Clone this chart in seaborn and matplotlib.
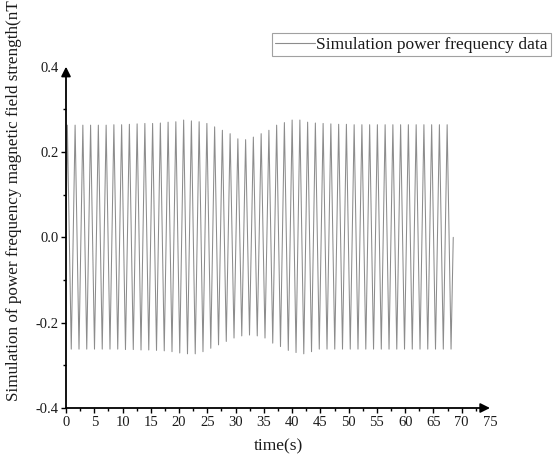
import numpy as np
import pandas as pd
import matplotlib
matplotlib.use("Agg")
import matplotlib.pyplot as plt
from matplotlib.lines import Line2D
import seaborn as sns

# Times of the successive extremes (peak, trough, peak, ...), seconds
extreme_times = [
    0.24, 0.93, 1.61, 2.30, 2.98, 3.67, 4.35, 5.04, 5.72, 6.41,
    7.10, 7.78, 8.47, 9.15, 9.84, 10.52, 11.21, 11.90, 12.58, 13.27,
    13.95, 14.64, 15.32, 16.01, 16.69, 17.38, 18.06, 18.75, 19.43, 20.12,
    20.81, 21.49, 22.18, 22.86, 23.55, 24.23, 24.92, 25.61, 26.29, 26.98,
    27.66, 28.35, 29.03, 29.72, 30.40, 31.09, 31.77, 32.46, 33.14, 33.83,
    34.52, 35.20, 35.89, 36.57, 37.26, 37.94, 38.63, 39.32, 40.00, 40.69,
    41.37, 42.06, 42.74, 43.43, 44.11, 44.80, 45.48, 46.17, 46.85, 47.54,
    48.23, 48.91, 49.60, 50.28, 50.97, 51.65, 52.34, 53.03, 53.71, 54.40,
    55.08, 55.77, 56.45, 57.14, 57.82, 58.51, 59.19, 59.88, 60.56, 61.25,
    61.94, 62.62, 63.31, 63.99, 64.68, 65.36, 66.05, 66.74, 67.42, 68.11,
]
# Field strength at each extreme (nT)
extreme_values = [
    0.263, -0.262, 0.263, -0.262, 0.263, -0.262, 0.263, -0.262, 0.263, -0.262,
    0.263, -0.262, 0.264, -0.262, 0.264, -0.263, 0.265, -0.263, 0.266, -0.264,
    0.267, -0.264, 0.267, -0.265, 0.268, -0.266, 0.270, -0.268, 0.271, -0.271,
    0.275, -0.273, 0.273, -0.273, 0.271, -0.268, 0.267, -0.260, 0.259, -0.252,
    0.251, -0.244, 0.243, -0.236, 0.231, -0.231, 0.229, -0.229, 0.235, -0.231,
    0.243, -0.236, 0.251, -0.248, 0.263, -0.256, 0.269, -0.265, 0.275, -0.270,
    0.275, -0.273, 0.270, -0.268, 0.268, -0.262, 0.267, -0.262, 0.266, -0.262,
    0.265, -0.262, 0.265, -0.262, 0.264, -0.262, 0.264, -0.262, 0.264, -0.262,
    0.264, -0.262, 0.264, -0.262, 0.264, -0.262, 0.264, -0.262, 0.264, -0.262,
    0.264, -0.262, 0.264, -0.262, 0.264, -0.262, 0.264, -0.262, 0.264, -0.262,
]
start_time, start_value = 0.0, 0.0
end_time, end_value = 68.5, 0.0

x_ticks = [0, 5, 10, 15, 20, 25, 30, 35, 40, 45, 50, 55, 60, 65, 70, 75]
y_ticks = [-0.4, -0.2, 0.0, 0.2, 0.4]
series_name = "Simulation power frequency data"
y_label = "Simulation of power frequency magnetic field strength(nT"
x_label = "time(s)"

times = [start_time] + extreme_times + [end_time]
values = [start_value] + extreme_values + [end_value]
df = pd.DataFrame({"time": times, "value": values, "series": series_name})

sns.set_theme(style="white")
plt.rcParams["font.family"] = ["Liberation Serif", "DejaVu Serif"]

line_color = "#8c8c8c"
text_color = "#1a1a1a"

fig = plt.figure(figsize=(5.53, 4.61), dpi=100)
ax = fig.add_axes([66 / 553, 1 - 408 / 461, (490 - 66) / 553, (408 - 66.7) / 461])

sns.lineplot(data=df, x="time", y="value", hue="series", palette=[line_color],
             linewidth=0.75, ax=ax, legend=False, estimator=None, sort=False)

ax.set_xlim(0, 75)
ax.set_ylim(-0.4, 0.4)
ax.set_xticks(x_ticks)
ax.set_xticklabels([str(t) for t in x_ticks])
ax.set_yticks(y_ticks)
ax.set_yticklabels([f"{t:.1f}" for t in y_ticks])
ax.set_xticks(np.arange(2.5, 75, 5), minor=True)
ax.set_yticks([-0.3, -0.1, 0.1, 0.3], minor=True)

for s in ["top", "right", "left", "bottom"]:
    ax.spines[s].set_visible(False)

ax.tick_params(axis="both", which="major", direction="out", length=3.5, width=1.0,
               color="black", labelsize=10.5, labelcolor=text_color, pad=2,
               bottom=True, left=True)
ax.tick_params(axis="both", which="minor", direction="out", length=2, width=1.0,
               color="black", bottom=True, left=True)
ax.xaxis.get_major_ticks()[-1].tick1line.set_visible(False)
ax.yaxis.get_major_ticks()[-1].tick1line.set_visible(False)

# axis lines with arrow heads
for end in [(1.0, 0.0), (0.0, 1.0)]:
    ax.annotate("", xy=end, xytext=(0.0, 0.0), xycoords="axes fraction",
                arrowprops=dict(arrowstyle="-|>", color="black", lw=1.3,
                                mutation_scale=14, shrinkA=0, shrinkB=0),
                annotation_clip=False)

ax.set_xlabel(x_label, fontsize=12.5, color=text_color, labelpad=7)
ax.set_ylabel(y_label, fontsize=12.3, color=text_color)
ax.yaxis.set_label_coords(-0.103, 0.607)

handle = Line2D([0], [0], color=line_color, lw=0.8)
leg = fig.legend([handle], [series_name], loc="upper left",
                 bbox_to_anchor=(272 / 553, 1 - 33 / 461), fontsize=12.5,
                 frameon=True, fancybox=False, edgecolor="#8a8a8a",
                 handlelength=2.3, handletextpad=0.05, borderpad=0.2,
                 borderaxespad=0)
leg.get_frame().set_linewidth(0.8)
for t in leg.get_texts():
    t.set_color(text_color)

fig.savefig("out.png", dpi=100)
